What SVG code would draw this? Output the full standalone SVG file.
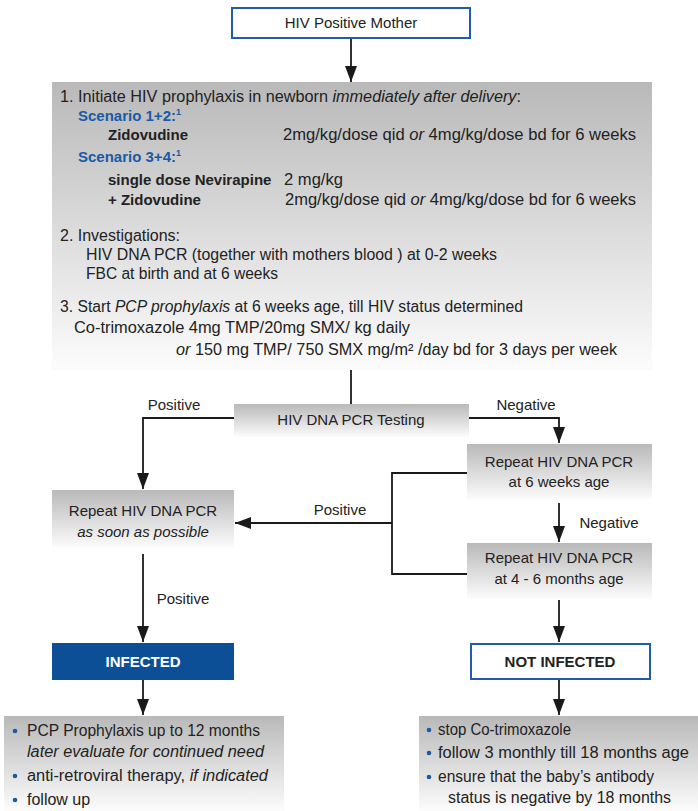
<svg xmlns="http://www.w3.org/2000/svg" width="698" height="811" viewBox="0 0 698 811">
<defs>
<linearGradient id="g" x1="0" y1="0" x2="0" y2="1">
<stop offset="0" stop-color="#b9b9b9"/>
<stop offset="1" stop-color="#fcfcfc"/>
</linearGradient>
<marker id="ah" markerWidth="16" markerHeight="12" refX="16" refY="6" orient="auto" markerUnits="userSpaceOnUse" viewBox="0 0 16 12">
<path d="M0,0 L16,6 L0,12 Z" fill="#1a1a1a"/>
</marker>
</defs>
<style>
text{font-family:"Liberation Sans",Arial,sans-serif;font-size:15px;fill:#222}
.m{font-size:16px}
.c{text-anchor:middle}
.b{font-weight:bold}
.i{font-style:italic}
.blue{fill:#1a5aa6;font-weight:bold}
.grey{fill:url(#g)}
.conn path,.conn line{stroke:#1a1a1a;stroke-width:1.8;fill:none}
.dot{fill:#1a5aa6}
</style>

<g id="conn" class="conn">
<line x1="351" y1="39" x2="351" y2="82" marker-end="url(#ah)"/>
<line x1="351" y1="370" x2="351" y2="404"/>
<path d="M234,418 H143 V489" marker-end="url(#ah)"/>
<path d="M469,418 H559 V443" marker-end="url(#ah)"/>
<line x1="559" y1="503" x2="559" y2="542" marker-end="url(#ah)"/>
<path d="M467,473 H392 V574 H467"/>
<line x1="392" y1="523" x2="235" y2="523" marker-end="url(#ah)"/>
<line x1="143" y1="554" x2="143" y2="642" marker-end="url(#ah)"/>
<line x1="559" y1="600" x2="559" y2="642" marker-end="url(#ah)"/>
<line x1="143" y1="680" x2="143" y2="715" marker-end="url(#ah)"/>
<line x1="559" y1="680" x2="559" y2="715" marker-end="url(#ah)"/>
<text x="174" y="410" class="c">Positive</text>
<text x="526" y="410" class="c">Negative</text>
<text x="340" y="515" class="c">Positive</text>
<text x="609" y="528" class="c">Negative</text>
<text x="183" y="604" class="c">Positive</text>
</g>

<g id="mother">
<rect x="232" y="8" width="238" height="30" fill="#fff" stroke="#1f5ea6" stroke-width="2"/>
<text x="351" y="28" class="c">HIV Positive Mother</text>
</g>

<g id="prophylaxis" class="m">
<rect x="52" y="82" width="600" height="288" class="grey"/>
<text x="60" y="102" class="m" textLength="461" lengthAdjust="spacingAndGlyphs">1. Initiate HIV prophylaxis in newborn <tspan class="i">immediately after delivery</tspan>:</text>
<text x="78" y="121" class="blue">Scenario 1+2:<tspan font-size="9" dy="-6">1</tspan></text>
<text x="108" y="140" class="b">Zidovudine</text>
<text x="283" y="140" class="m" textLength="353" lengthAdjust="spacingAndGlyphs">2mg/kg/dose qid <tspan class="i">or</tspan> 4mg/kg/dose bd for 6 weeks</text>
<text x="78" y="162" class="blue">Scenario 3+4:<tspan font-size="9" dy="-6">1</tspan></text>
<text x="108" y="185" class="b">single dose Nevirapine</text>
<text x="284" y="185" class="m" textLength="59" lengthAdjust="spacingAndGlyphs">2 mg/kg</text>
<text x="108" y="205" class="b">+ Zidovudine</text>
<text x="285" y="205" class="m" textLength="351" lengthAdjust="spacingAndGlyphs">2mg/kg/dose qid <tspan class="i">or</tspan> 4mg/kg/dose bd for 6 weeks</text>
<text x="60" y="241" class="m" textLength="120" lengthAdjust="spacingAndGlyphs">2. Investigations:</text>
<text x="86" y="260" class="m" textLength="411" lengthAdjust="spacingAndGlyphs">HIV DNA PCR (together with mothers blood ) at 0-2 weeks</text>
<text x="86" y="279" class="m" textLength="192" lengthAdjust="spacingAndGlyphs">FBC at birth and at 6 weeks</text>
<text x="60" y="312" class="m" textLength="463" lengthAdjust="spacingAndGlyphs">3. Start <tspan class="i">PCP prophylaxis</tspan> at 6 weeks age, till HIV status determined</text>
<text x="74" y="333" class="m" textLength="336" lengthAdjust="spacingAndGlyphs">Co-trimoxazole  4mg TMP/20mg SMX/ kg daily</text>
<text x="176" y="355" class="m" textLength="441" lengthAdjust="spacingAndGlyphs"><tspan class="i">or</tspan>  150 mg TMP/ 750 SMX mg/m² /day bd for 3 days per week</text>
</g>

<g id="testing">
<rect x="234" y="404" width="235" height="33" class="grey"/>
<text x="351" y="425" class="c">HIV DNA PCR Testing</text>
</g>

<g id="repeat6w">
<rect x="467" y="444" width="185" height="56" class="grey"/>
<text x="559" y="467" class="c">Repeat HIV DNA PCR</text>
<text x="559" y="487" class="c">at 6 weeks age</text>
</g>

<g id="repeat46m">
<rect x="467" y="543" width="185" height="56" class="grey"/>
<text x="559" y="563" class="c">Repeat HIV DNA PCR</text>
<text x="559" y="584" class="c">at 4 - 6 months age</text>
</g>

<g id="repeatasap">
<rect x="52" y="490" width="182" height="58" class="grey"/>
<text x="143" y="516" class="c">Repeat HIV DNA PCR</text>
<text x="143" y="537" class="c i">as soon as possible</text>
</g>

<g id="infected">
<rect x="52" y="643" width="182" height="37" fill="#0c4f96"/>
<text x="143" y="667" class="c b" style="fill:#fff">INFECTED</text>
</g>

<g id="notinfected">
<rect x="471" y="644" width="179" height="35" fill="#fff" stroke="#1f5ea6" stroke-width="2"/>
<text x="560" y="667" class="c b">NOT INFECTED</text>
</g>

<g id="infected-actions">
<rect x="4" y="716" width="280" height="95" class="grey"/>
<circle cx="15" cy="731" r="2.3" class="dot"/>
<text x="27" y="736" class="m" textLength="233" lengthAdjust="spacingAndGlyphs">PCP Prophylaxis up to 12 months</text>
<text x="27" y="757" class="m i" textLength="237" lengthAdjust="spacingAndGlyphs">later evaluate for continued need</text>
<circle cx="15" cy="776" r="2.3" class="dot"/>
<text x="27" y="781" class="m" textLength="241" lengthAdjust="spacingAndGlyphs">anti-retroviral therapy, <tspan class="i">if indicated</tspan></text>
<circle cx="15" cy="800" r="2.3" class="dot"/>
<text x="27" y="805" class="m">follow up</text>
</g>

<g id="notinfected-actions">
<rect x="419" y="716" width="279" height="95" class="grey"/>
<circle cx="429" cy="730" r="2.3" class="dot"/>
<text x="438" y="735" class="m" textLength="133" lengthAdjust="spacingAndGlyphs">stop Co-trimoxazole</text>
<circle cx="429" cy="753" r="2.3" class="dot"/>
<text x="438" y="758" class="m" textLength="251" lengthAdjust="spacingAndGlyphs">follow 3 monthly till 18 months age</text>
<circle cx="429" cy="777" r="2.3" class="dot"/>
<text x="438" y="782" class="m" textLength="216" lengthAdjust="spacingAndGlyphs">ensure that the baby’s antibody</text>
<text x="448" y="803" class="m" textLength="223" lengthAdjust="spacingAndGlyphs">status is negative by 18 months</text>
</g>
</svg>
